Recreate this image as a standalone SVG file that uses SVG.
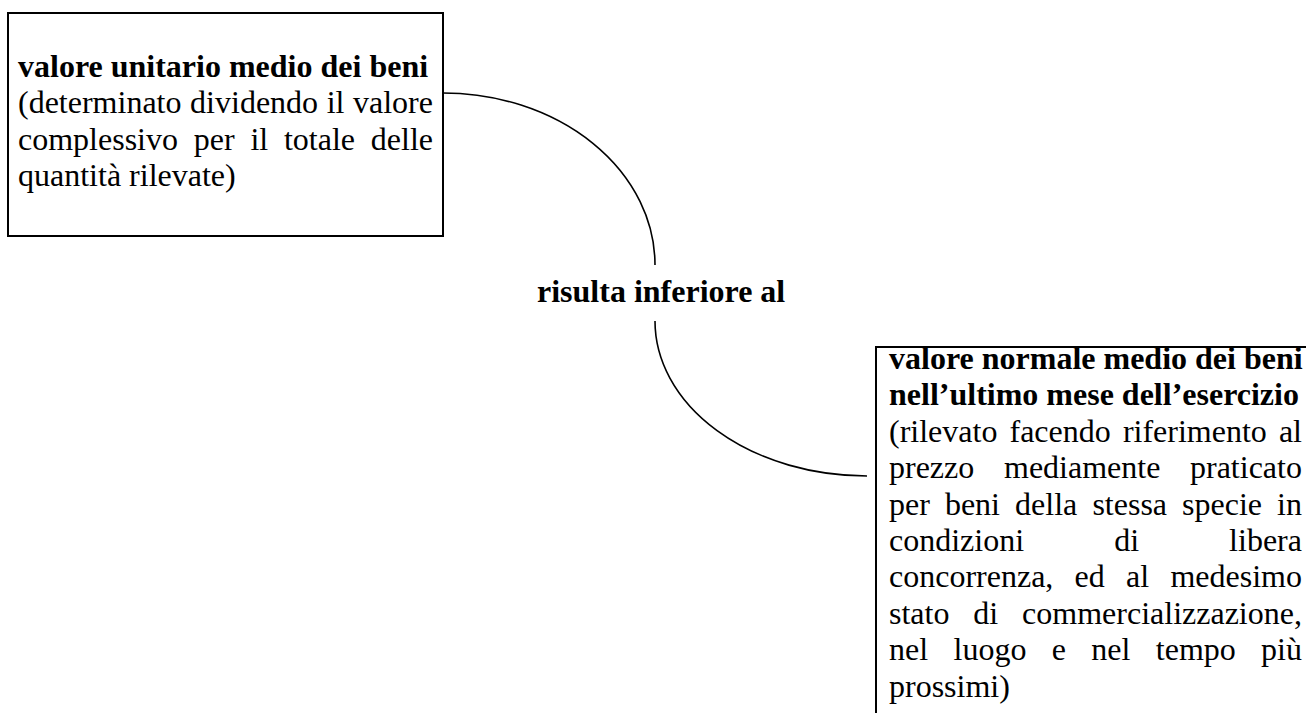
<svg xmlns="http://www.w3.org/2000/svg" width="1306" height="713" viewBox="0 0 1306 713">
  <style>
    .box { fill: #ffffff; stroke: #000000; stroke-width: 2; }
    .conn { fill: none; stroke: #000000; stroke-width: 1.6; }
    text { font-family: "Liberation Serif", "Times New Roman", serif; font-size: 32px; fill: #000000; }
    .b { font-weight: bold; }
  </style>
  <rect x="0" y="0" width="1306" height="713" fill="#ffffff"/>

  <g id="connectors">
    <path class="conn" d="M 443 93 A 212 172 0 0 1 655 265"/>
    <path class="conn" d="M 655 321 A 212 155 0 0 0 867 476"/>
    <text id="edge-label" class="b" x="537" y="302">risulta inferiore al</text>
  </g>

  <g id="node-unitario">
    <rect class="box" x="8" y="13" width="435" height="223"/>
    <text class="b" x="18" y="77">valore unitario medio dei beni</text>
    <text y="113.4"><tspan x="18">(determinato</tspan><tspan x="190.1">dividendo</tspan><tspan x="326.7">il</tspan><tspan x="353.0">valore</tspan></text>
    <text y="149.8"><tspan x="18">complessivo</tspan><tspan x="193.8">per</tspan><tspan x="250.4">il</tspan><tspan x="283.9">totale</tspan><tspan x="370.8">delle</tspan></text>
    <text x="18" y="186.2">quantità rilevate)</text>
  </g>

  <g id="node-normale">
    <rect class="box" x="876" y="347" width="460" height="400"/>
    <text class="b" x="889" y="369">valore normale medio dei beni</text>
    <text class="b" x="889" y="405.4">nell’ultimo mese dell’esercizio</text>
    <text y="441.8"><tspan x="889">(rilevato</tspan><tspan x="1009.5">facendo</tspan><tspan x="1122.9">riferimento</tspan><tspan x="1278.9">al</tspan></text>
    <text y="478.2"><tspan x="889">prezzo</tspan><tspan x="1004.0">mediamente</tspan><tspan x="1190.0">praticato</tspan></text>
    <text y="514.6"><tspan x="889">per</tspan><tspan x="944.9">beni</tspan><tspan x="1015.1">della</tspan><tspan x="1092.4">stessa</tspan><tspan x="1182.1">specie</tspan><tspan x="1277.1">in</tspan></text>
    <text y="551"><tspan x="889">condizioni</tspan><tspan x="1114.2">di</tspan><tspan x="1229.1">libera</tspan></text>
    <text y="587.4"><tspan x="889">concorrenza,</tspan><tspan x="1074.6">ed</tspan><tspan x="1126.1">al</tspan><tspan x="1170.4">medesimo</tspan></text>
    <text y="623.8"><tspan x="889">stato</tspan><tspan x="973.3">di</tspan><tspan x="1022.1">commercializzazione,</tspan></text>
    <text y="660.2"><tspan x="889">nel</tspan><tspan x="953.5">luogo</tspan><tspan x="1051.7">e</tspan><tspan x="1091.3">nel</tspan><tspan x="1155.8">tempo</tspan><tspan x="1261.1">più</tspan></text>
    <text x="889" y="696.6">prossimi)</text>
  </g>
</svg>
